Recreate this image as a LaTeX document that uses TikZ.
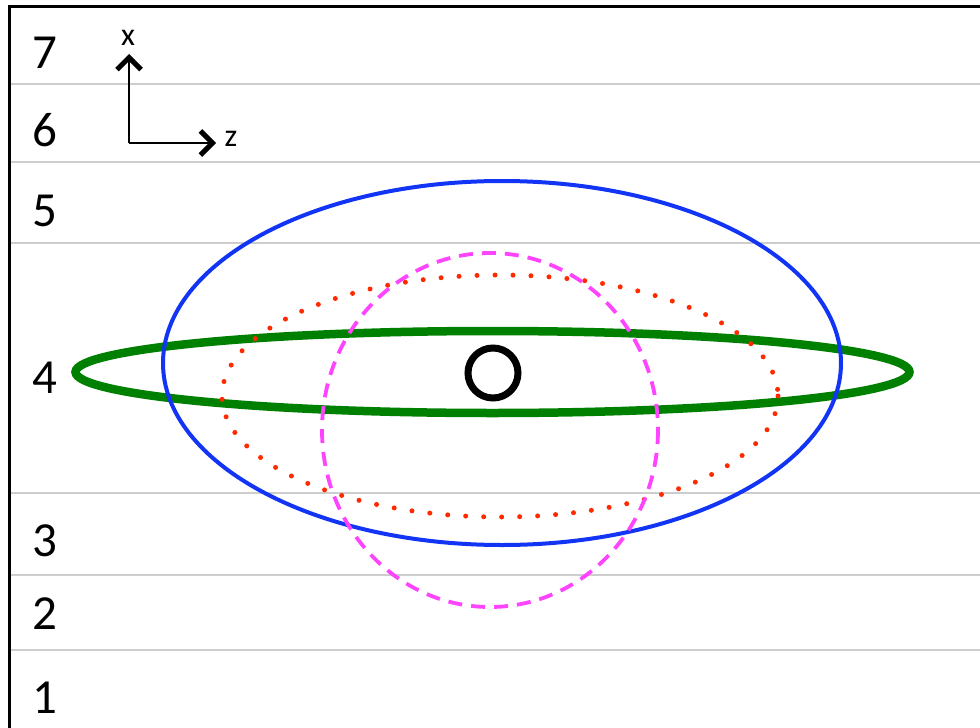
\documentclass[tikz,border=0pt]{standalone}
\usepackage{fontspec}
\setmainfont{Carlito}
\usepackage{tikz}
\usetikzlibrary{arrows.meta,calc,positioning}
\definecolor{rule}{HTML}{CDCDCD}
\definecolor{beam}{HTML}{1234F5}
\definecolor{sheet}{HTML}{008000}
\definecolor{halo}{HTML}{FF2A00}
\definecolor{spot}{HTML}{FF44FF}

\begin{document}
\begin{tikzpicture}[x=1pt,y=-1pt]
        \useasboundingbox (0,0) rectangle (980,728);
        % layer rules and row numbers
        \foreach \y in {84,162,243,493,575,650}{
          \draw[rule,line width=1.5pt] (9,\y) -- (980,\y);
        }
        \foreach \n/\y in {7/68,6/146,5/226,4/393,3/556,2/629,1/713}{
          \node[anchor=base,inner sep=0pt,font=\fontsize{49}{49}\selectfont] (row\n) at (45,\y) {\n};
        }
        \draw[black,line width=3pt] (9,728) -- (9,6) -- (980,6);
        % axes
        \coordinate (orig) at (129,143);
        \coordinate (xtip) at (129,54);
        \coordinate (ztip) at (216,143);
        \draw[line width=2pt,-{Straight Barb[length=12pt,width=24pt,line width=5pt]}] (orig) -- (xtip);
        \draw[line width=2pt,-{Straight Barb[length=12pt,width=24pt,line width=5pt]}] (orig) -- (ztip);
        \node[font=\fontsize{32}{32}\selectfont,inner sep=0pt] (xlab) at (128,38) {x};
        \node[font=\fontsize{32}{32}\selectfont,inner sep=0pt] (zlab) at (231,139) {z};
        % ellipses
        \draw[sheet,line width=8.5pt] (492.5,372) ellipse[x radius=417, y radius=41];
        \draw[beam,line width=4pt] (502,363) ellipse[x radius=339, y radius=182];
        \draw[halo,line width=5pt,line cap=round,dash pattern=on 0pt off 18pt] (500,396) ellipse[x radius=278, y radius=121];
        \draw[spot,line width=3.8pt,dash pattern=on 14pt off 9pt] (490,430) ellipse[x radius=168, y radius=177];
        \draw[black,line width=7pt] (493,373) circle[radius=25];
      \end{tikzpicture}
\end{document}
